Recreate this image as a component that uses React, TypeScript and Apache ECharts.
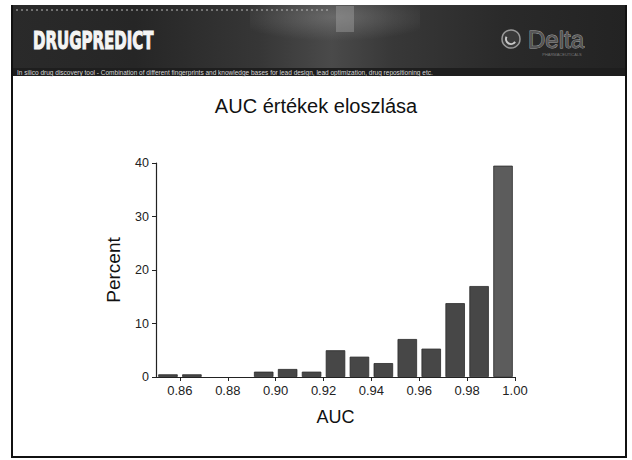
import React, { useEffect, useRef } from "react";
import * as echarts from "echarts";

// AUC histogram: bins of width 0.01, value is the bin centre
const binCenters = [0.855, 0.865, 0.875, 0.885, 0.895, 0.905, 0.915, 0.925, 0.935, 0.945, 0.955, 0.965, 0.975, 0.985, 0.995];
const percent = [0.5, 0.5, 0, 0, 1.0, 1.5, 1.0, 5.0, 3.8, 2.6, 7.1, 5.3, 13.8, 17.0, 39.5];
const xTicks = [0.86, 0.88, 0.9, 0.92, 0.94, 0.96, 0.98, 1.0];
const yTicks = [0, 10, 20, 30, 40];

const chartTitle = "AUC értékek eloszlása";
const xName = "AUC";
const yName = "Percent";
const brand = "DRUGPREDICT";
const tagline =
  "In silico drug discovery tool - Combination of different fingerprints and knowledge bases for lead design, lead optimization, drug repositioning etc.";
const logoText = "Delta";
const logoSub = "PHARMACEUTICALS";

const FONT = 'Arial, "Liberation Sans", sans-serif';

export default function App() {
  const ref = useRef<HTMLDivElement>(null);

  useEffect(() => {
    if (!ref.current) return;
    const chart = echarts.init(ref.current, undefined, { renderer: "svg" });

    const last = binCenters.length - 1;
    const data = binCenters.map((c, i) => ({
      value: [c, percent[i]],
      itemStyle:
        percent[i] === 0
          ? { borderWidth: 0 }
          : i === last
          ? { color: "#5c5c5c" }
          : undefined,
    }));

    chart.setOption({
      animation: false,
      backgroundColor: "#ffffff",
      title: {
        text: chartTitle,
        left: "center",
        top: 91,
        textStyle: { fontFamily: FONT, fontSize: 20, fontWeight: "normal", color: "#111" },
      },
      grid: { left: 156, right: 117, top: 163, bottom: 83, containLabel: false },
      xAxis: {
        type: "value",
        min: 0.85,
        max: 1.0,
        name: xName,
        nameLocation: "middle",
        nameGap: 31,
        nameTextStyle: { fontFamily: FONT, fontSize: 18, color: "#111" },
        axisLine: { show: true, lineStyle: { color: "#222", width: 1.2 } },
        axisTick: { show: true, length: 4, customValues: xTicks, lineStyle: { color: "#222" } },
        axisLabel: {
          customValues: xTicks,
          formatter: (v: number) => v.toFixed(2),
          fontFamily: FONT,
          fontSize: 13,
          color: "#222",
          margin: 7,
        },
        splitLine: { show: false },
      },
      yAxis: {
        type: "value",
        min: 0,
        max: 40,
        interval: 10,
        name: yName,
        nameLocation: "middle",
        nameGap: 33,
        nameTextStyle: { fontFamily: FONT, fontSize: 19, color: "#111" },
        axisLine: { show: true, lineStyle: { color: "#222", width: 1.2 } },
        axisTick: { show: true, length: 4, lineStyle: { color: "#222" } },
        axisLabel: {
          fontFamily: FONT,
          fontSize: 12.5,
          color: "#222",
          margin: 7,
          formatter: (v: number) => (yTicks.includes(v) ? String(v) : ""),
        },
        splitLine: { show: false },
      },
      series: [
        {
          type: "bar",
          data,
          barWidth: 19.5,
          itemStyle: { color: "#474747", borderColor: "#2b2b2b", borderWidth: 0.8 },
        },
      ],
      graphic: [
        // slide frame
        {
          type: "polyline",
          shape: { points: [[12, 5], [12, 457], [626, 457], [626, 5]] },
          style: { stroke: "#111", lineWidth: 2, fill: null },
          z: 10,
        },
        // header banner
        {
          type: "rect",
          shape: { x: 12, y: 5, width: 614, height: 71 },
          style: {
            fill: new echarts.graphic.LinearGradient(0, 0, 1, 0, [
              { offset: 0, color: "#2a2a2a" },
              { offset: 0.2, color: "#262626" },
              { offset: 0.4, color: "#363636" },
              { offset: 0.52, color: "#4a4a4a" },
              { offset: 0.62, color: "#383838" },
              { offset: 0.8, color: "#2a2a2a" },
              { offset: 1, color: "#232323" },
            ]),
          },
          z: 1,
        },
        {
          type: "rect",
          shape: { x: 250, y: 5, width: 170, height: 40 },
          style: {
            fill: new echarts.graphic.RadialGradient(0.5, 0.3, 0.6, [
              { offset: 0, color: "rgba(150,150,150,0.4)" },
              { offset: 1, color: "rgba(150,150,150,0)" },
            ]),
          },
          z: 2,
        },
        {
          type: "rect",
          shape: { x: 336, y: 6, width: 18, height: 26 },
          style: { fill: "rgba(170,170,170,0.4)" },
          z: 2,
        },
        {
          type: "line",
          shape: { x1: 16, y1: 10, x2: 330, y2: 10 },
          style: { stroke: "#bbbbbb", lineWidth: 1, lineDash: [2, 3] },
          z: 3,
        },
        {
          type: "text",
          x: 33,
          y: 41,
          scaleX: 0.6,
          style: {
            text: brand,
            fontFamily: '"DejaVu Sans", sans-serif',
            fontWeight: "bold",
            fontSize: 25,
            fill: "#f4f4f4",
            stroke: "#f4f4f4",
            lineWidth: 1.2,
            verticalAlign: "middle",
          },
          z: 4,
        },
        // logo mark and name
        {
          type: "circle",
          shape: { cx: 511, cy: 39, r: 9 },
          style: { fill: "#3a3a3a", stroke: "#9a9a9a", lineWidth: 1.5 },
          z: 4,
        },
        {
          type: "arc",
          shape: { cx: 511, cy: 39, r: 5, startAngle: 0.6, endAngle: 3.6 },
          style: { stroke: "#c8c8c8", lineWidth: 2, fill: null },
          z: 4,
        },
        {
          type: "text",
          x: 528,
          y: 39,
          style: {
            text: logoText,
            fontFamily: FONT,
            fontSize: 24,
            fill: "#555",
            stroke: "#a8a8a8",
            lineWidth: 0.8,
            verticalAlign: "middle",
          },
          z: 4,
        },
        {
          type: "text",
          x: 562,
          y: 54,
          style: { text: logoSub, fontFamily: FONT, fontSize: 4, fill: "#777", align: "center", verticalAlign: "middle" },
          z: 4,
        },
        // tagline strip
        {
          type: "rect",
          shape: { x: 12, y: 68, width: 614, height: 8 },
          style: { fill: "#1e1e1e" },
          z: 3,
        },
        {
          type: "text",
          x: 17,
          y: 72,
          style: { text: tagline, fontFamily: FONT, fontSize: 6.5, fill: "#d8d8d8", verticalAlign: "middle" },
          z: 4,
        },
      ],
    });

    return () => chart.dispose();
  }, []);

  return (
    <div
      ref={ref}
      style={{ position: "fixed", left: 0, top: 0, width: 632, height: 460, background: "#fff" }}
    />
  );
}
